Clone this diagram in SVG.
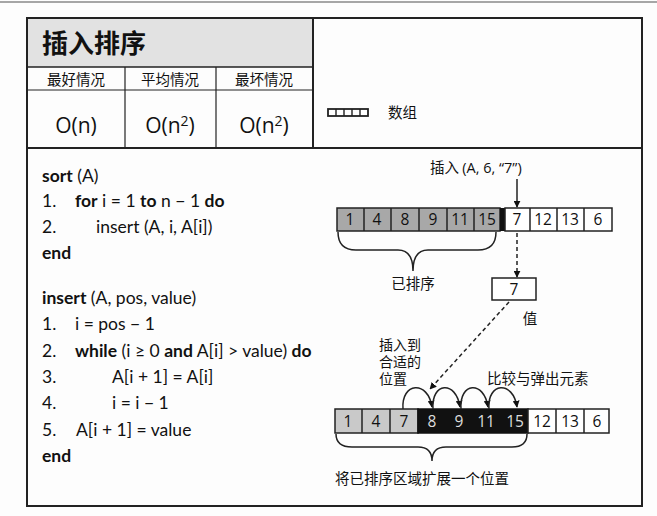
<svg xmlns="http://www.w3.org/2000/svg" width="657" height="516" viewBox="0 0 657 516">
<defs>
<style>
.t{font-family:"Open Sans","Noto Sans CJK SC",sans-serif;fill:#111}
.cj{font-family:"Noto Sans CJK SC",sans-serif;fill:#111}
.code{font-family:"Lato","Open Sans",sans-serif;font-size:17.5px;fill:#111}
.b{font-weight:bold}
.frame{fill:none;stroke:#222;stroke-width:2}
.cell{stroke:#222;stroke-width:1.5}
.num{font-family:"Open Sans",sans-serif;font-size:15.5px;text-anchor:middle;fill:#111}
.wnum{font-family:"Open Sans",sans-serif;font-size:15.5px;text-anchor:middle;fill:#ddd}
.ln{fill:none;stroke:#222;stroke-width:1.5}
.dash{fill:none;stroke:#222;stroke-width:1.5;stroke-dasharray:4 3}
</style>
<marker id="ah" viewBox="0 0 10 10" refX="9" refY="5" markerWidth="7" markerHeight="7" orient="auto" markerUnits="userSpaceOnUse">
<path d="M0,0 L10,5 L0,10 z" fill="#111"/>
</marker>
</defs>
<rect width="657" height="516" fill="#fdfdfd"/>
<line x1="0" y1="2" x2="657" y2="2" stroke="#888" stroke-width="1.5"/>

<g id="frame">
<rect x="27" y="18" width="615" height="488" class="frame"/>
<rect x="28" y="19" width="285" height="48" fill="#e2e2e2"/>
<line x1="27" y1="67" x2="313" y2="67" stroke="#222" stroke-width="1.5"/>
<line x1="27" y1="90" x2="313" y2="90" stroke="#222" stroke-width="1"/>
<line x1="313" y1="18" x2="313" y2="148" stroke="#222" stroke-width="2"/>
<line x1="125" y1="67" x2="125" y2="148" stroke="#222" stroke-width="1.2"/>
<line x1="216" y1="67" x2="216" y2="148" stroke="#222" stroke-width="1.2"/>
<line x1="27" y1="148" x2="642" y2="148" stroke="#222" stroke-width="2"/>
</g>

<g id="header">
<text x="42" y="53" class="cj b" font-size="26">插入排序</text>
<text x="76" y="85" class="cj" font-size="14.5" text-anchor="middle">最好情况</text>
<text x="170" y="85" class="cj" font-size="14.5" text-anchor="middle">平均情况</text>
<text x="264" y="85" class="cj" font-size="14.5" text-anchor="middle">最坏情况</text>
<text x="76" y="133" class="t" font-size="21" text-anchor="middle">O(n)</text>
<text x="170" y="133" class="t" font-size="21" text-anchor="middle">O(n<tspan font-size="14" dy="-7">2</tspan><tspan dy="7">)</tspan></text>
<text x="264" y="133" class="t" font-size="21" text-anchor="middle">O(n<tspan font-size="14" dy="-7">2</tspan><tspan dy="7">)</tspan></text>
</g>

<g id="legend">
<rect x="328" y="109" width="40" height="7" fill="#fff" stroke="#222" stroke-width="1.8"/>
<line x1="336" y1="109" x2="336" y2="116" stroke="#222" stroke-width="1.4"/>
<line x1="344" y1="109" x2="344" y2="116" stroke="#222" stroke-width="1.4"/>
<line x1="352" y1="109" x2="352" y2="116" stroke="#222" stroke-width="1.4"/>
<line x1="360" y1="109" x2="360" y2="116" stroke="#222" stroke-width="1.4"/>
<text x="388" y="118" class="cj" font-size="14.5">数组</text>
</g>

<g id="code">
<text x="42" y="182" class="code"><tspan class="b">sort</tspan> (A)</text>
<text x="42" y="207" class="code">1.</text>
<text x="75" y="207" class="code"><tspan class="b">for</tspan> i = 1 <tspan class="b">to</tspan> n − 1 <tspan class="b">do</tspan></text>
<text x="42" y="233" class="code">2.</text>
<text x="96" y="233" class="code">insert (A, i, A[i])</text>
<text x="42" y="259" class="code b">end</text>
<text x="42" y="304" class="code"><tspan class="b">insert</tspan> (A, pos, value)</text>
<text x="42" y="330" class="code">1.</text>
<text x="75" y="330" class="code">i = pos − 1</text>
<text x="42" y="357" class="code">2.</text>
<text x="75" y="357" class="code"><tspan class="b">while</tspan> (i ≥ 0 <tspan class="b">and</tspan> A[i] &gt; value) <tspan class="b">do</tspan></text>
<text x="42" y="383" class="code">3.</text>
<text x="112" y="383" class="code">A[i + 1] = A[i]</text>
<text x="42" y="409" class="code">4.</text>
<text x="112" y="409" class="code">i = i − 1</text>
<text x="42" y="436" class="code">5.</text>
<text x="76" y="436" class="code">A[i + 1] = value</text>
<text x="42" y="462" class="code b">end</text>
</g>

<g id="top-array">
<rect x="337" y="208" width="163" height="23" fill="#a8a8a8" class="cell"/>
<line x1="364" y1="208" x2="364" y2="231" class="ln"/>
<line x1="391" y1="208" x2="391" y2="231" class="ln"/>
<line x1="419" y1="208" x2="419" y2="231" class="ln"/>
<line x1="447" y1="208" x2="447" y2="231" class="ln"/>
<line x1="474" y1="208" x2="474" y2="231" class="ln"/>
<rect x="500" y="208" width="5" height="23" fill="#111"/>
<rect x="505" y="208" width="107" height="23" fill="#fff" class="cell"/>
<line x1="530" y1="208" x2="530" y2="231" class="ln"/>
<line x1="557" y1="208" x2="557" y2="231" class="ln"/>
<line x1="584" y1="208" x2="584" y2="231" class="ln"/>
<text x="350" y="225" class="num">1</text>
<text x="377" y="225" class="num">4</text>
<text x="405" y="225" class="num">8</text>
<text x="433" y="225" class="num">9</text>
<text x="460" y="225" class="num">11</text>
<text x="487" y="225" class="num">15</text>
<text x="517" y="225" class="num">7</text>
<text x="543" y="225" class="num">12</text>
<text x="570" y="225" class="num">13</text>
<text x="598" y="225" class="num">6</text>
</g>

<g id="insert-label">
<text x="430" y="173" class="cj" font-size="14.5">插入 <tspan font-family="Open Sans">(A, 6, “7”)</tspan></text>
</g>

<g id="sorted-brace">
<path d="M338,232 Q338,250 356,250 L398,250 Q413,250 413,271 Q413,250 428,250 L478,250 Q496,250 496,232" class="ln"/>
<text x="413" y="289" class="cj" font-size="14.5" text-anchor="middle">已排序</text>
</g>

<g id="value-box">
<rect x="492" y="278" width="44" height="22" fill="#fff" class="cell"/>
<text x="514" y="295" class="num" font-size="16">7</text>
<text x="530" y="324" class="cj" font-size="14.5" text-anchor="middle">值</text>
</g>

<g id="bottom-array">
<rect x="335" y="409" width="83" height="24" fill="#c9c9c9" class="cell"/>
<line x1="362" y1="409" x2="362" y2="433" class="ln"/>
<line x1="390" y1="409" x2="390" y2="433" class="ln"/>
<rect x="418" y="409" width="110" height="24" fill="#111" stroke="#111" stroke-width="1.5"/>
<rect x="528" y="409" width="81" height="24" fill="#fff" class="cell"/>
<line x1="556" y1="409" x2="556" y2="433" class="ln"/>
<line x1="584" y1="409" x2="584" y2="433" class="ln"/>
<text x="348" y="426.5" class="num">1</text>
<text x="376" y="426.5" class="num">4</text>
<text x="404" y="426.5" class="num">7</text>
<text x="432" y="426.5" class="wnum">8</text>
<text x="459" y="426.5" class="wnum">9</text>
<text x="486" y="426.5" class="wnum">11</text>
<text x="515" y="426.5" class="wnum">15</text>
<text x="542" y="426.5" class="num">12</text>
<text x="570" y="426.5" class="num">13</text>
<text x="597" y="426.5" class="num">6</text>
</g>

<g id="bottom-labels">
<text x="379" y="350" class="cj" font-size="14">插入到</text>
<text x="379" y="367" class="cj" font-size="14">合适的</text>
<text x="379" y="384" class="cj" font-size="14">位置</text>
<text x="487" y="384" class="cj" font-size="14.5">比较与弹出元素</text>
</g>

<g id="expand-brace">
<path d="M336,434 Q336,447 352,447 L418,447 Q432,447 432,461 Q432,447 446,447 L512,447 Q527,447 527,434" class="ln"/>
<text x="335" y="484" class="cj" font-size="14.5">将已排序区域扩展一个位置</text>
</g>

<g id="connectors">
<line x1="517" y1="179" x2="517" y2="207" class="ln" marker-end="url(#ah)"/>
<line x1="517" y1="233" x2="517" y2="277" class="dash" marker-end="url(#ah)"/>
<line x1="509" y1="302" x2="430" y2="389" class="dash" marker-end="url(#ah)"/>
<path d="M403,409 C401,382 428,380 432,407" class="ln" marker-end="url(#ah)"/>
<path d="M433,409 C431,382 456,380 460,407" class="ln" marker-end="url(#ah)"/>
<path d="M461,409 C459,382 484,380 488,407" class="ln" marker-end="url(#ah)"/>
<path d="M489,409 C487,382 513,380 517,407" class="ln" marker-end="url(#ah)"/>
</g>
</svg>
